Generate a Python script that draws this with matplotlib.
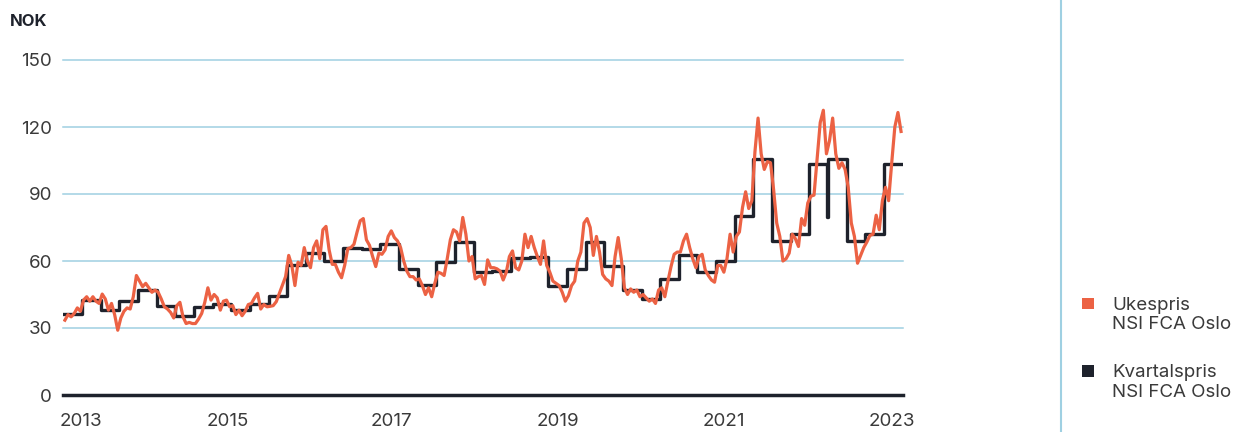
import numpy as np
import matplotlib
matplotlib.use("Agg")
import matplotlib.pyplot as plt
from matplotlib.patches import Rectangle
from matplotlib.lines import Line2D


#  Data (NOK per kg)
# Weekly price, six readings per quarter, one row per quarter
ukespris = [
    [33.5, 36, 35, 36.5, 39, 37.5],
    [42.5, 44, 42, 44, 42, 41],
    [45.2, 43, 38, 41, 36, 29],
    [34.5, 37.5, 39, 38.5, 44, 53.5],
    [51, 48.5, 50, 48, 46, 47],
    [46, 43, 39.5, 38.5, 37, 34.5],
    [40, 41.5, 35, 32, 32.5, 32],
    [32, 34, 36.5, 41.5, 48, 42.5],
    [45, 43.5, 38, 42, 42.5, 39.5],
    [40, 36, 38, 35.5, 37.5, 40.5],
    [41, 43.5, 45.5, 38.5, 40.5, 39.5],
    [39.7, 40, 41.8, 45.5, 49.3, 53],
    [62.5, 58, 49, 59.5, 58, 66],
    [60, 57, 66, 69, 61, 74],
    [75.5, 65, 58.5, 58.5, 55, 52.5],
    [58, 65.5, 66, 67.5, 73, 78],
    [79, 69.5, 67, 62, 57.5, 63.5],
    [63, 65, 71, 73.5, 70.5, 69],
    [66, 60, 55.5, 53, 53, 51.5],
    [52, 49, 45, 48, 44, 50],
    [55, 54.5, 53.5, 61, 69.5, 74],
    [73, 69, 79.5, 72, 60, 62],
    [52, 53, 53.5, 49.5, 60.5, 57],
    [57, 56.5, 55.5, 51.5, 55, 62],
    [64.5, 57, 56, 60, 72, 66],
    [71, 66, 62, 58.5, 69, 58],
    [55, 51, 50, 49, 46, 42],
    [44.5, 49, 51, 60, 64, 77],
    [79, 75, 62.5, 71, 64, 54],
    [52, 51, 49, 62, 70.5, 61],
    [48, 45, 47.5, 46, 47, 44],
    [45, 43.5, 42, 43, 41, 47],
    [48, 44, 51, 57.5, 63, 64],
    [64, 69, 72, 66, 61, 57],
    [62, 63, 56, 53.5, 51.5, 50.5],
    [58, 58, 55, 61, 72, 64],
    [71, 73, 84, 91, 83.5, 87],
    [109, 124, 108, 101, 104.5, 104],
    [92, 77, 71, 60, 61, 63.5],
    [72, 70, 66.5, 79, 76, 86],
    [89, 89.5, 106, 122, 127.5, 108],
    [114, 124, 108, 101.5, 104, 101],
    [93, 77, 71, 59, 62.5, 66],
    [68.5, 71.5, 72, 80.5, 74, 87],
    [93, 87, 104, 120, 126.5, 118],
]

# Quarterly price, one value per quarter
kvartalspris = [
    36.2, 42.5, 38.2, 42.2, 47, 39.8, 35.3, 39.6, 40.8, 38, 40.7, 44.5,
    58, 63.7, 59.8, 65.6, 65.2, 67.6, 56.3, 49.2, 59.5, 68.5, 54.9, 55.3,
    61.2, 62, 48.7, 56.2, 68.5, 57.7, 47.2, 43.2, 52.1, 62.6, 54.9, 59.8,
    80, 105.6, 68.9, 72.1, 103.5, 105.7, 68.8, 72.1, 103.5,
]
# single-week dip in the last week of quarter 40
dip_kvartal = 40
dip_pris = 79.7

aar_labels = ["2013", "2015", "2017", "2019", "2021", "2023"]
aar_pos = [0.95, 8.8, 17.6, 26.5, 35.4, 44.4]
y_ticks = [0, 30, 60, 90, 120, 150]

serie_navn = ["Ukespris\nNSI FCA Oslo", "Kvartalspris\nNSI FCA Oslo"]

#  Style
ORANGE = "#ec6244"
DARK = "#1e222c"
GRID = "#9fd0e2"
TEXT = "#3a3a3a"
W, H = 1237, 432

plt.rcParams["font.family"] = ["Inter", "DejaVu Sans"]


def fx(px):
    return px / W


def fy(py):
    return 1 - py / H


#  Figure
fig = plt.figure(figsize=(W / 100, H / 100), dpi=100)
ax = fig.add_axes([fx(63.35), fy(395), (902.6 - 63.35) / W, 335 / H])

n_q = len(kvartalspris)
per_q = len(ukespris[0])
uke = np.array(ukespris).ravel()
x_uke = (np.arange(uke.size) + 0.5) / per_q

kx = list(range(n_q + 1))
ky = list(kvartalspris) + [kvartalspris[-1]]
kx.insert(dip_kvartal + 1, dip_kvartal + 12 / 13)
ky.insert(dip_kvartal + 1, dip_pris)

for v in y_ticks[1:]:
    ax.axhline(v, color=GRID, lw=1.1, zorder=0, clip_on=False)
ax.axhline(0, color=DARK, lw=2.5, zorder=1, clip_on=False)

ax.step(kx, ky, where="post", color=DARK, lw=2.4, zorder=2)
ax.plot(x_uke, uke, color=ORANGE, lw=2.3, zorder=3, solid_joinstyle="round")

ax.set_xlim(0, n_q)
ax.set_ylim(0, 150)
for s in ax.spines.values():
    s.set_visible(False)

ax.set_yticks(y_ticks)
ax.set_xticks(aar_pos, aar_labels)
ax.tick_params(axis="y", length=0, pad=8, labelsize=13.5, labelcolor=TEXT)
ax.tick_params(axis="x", length=0, pad=13, labelsize=13.5, labelcolor=TEXT)

fig.text(fx(10), fy(21.5), "NOK", fontsize=12, fontweight="bold",
         color=DARK, va="center", ha="left")

# separator between plot and legend
fig.add_artist(Line2D([fx(1061), fx(1061)], [0, 1], transform=fig.transFigure,
                      color=GRID, lw=1.5))

# legend
for navn, farge, ysq in zip(serie_navn, [ORANGE, DARK], [303.5, 371.2]):
    fig.add_artist(Rectangle((fx(1082), fy(ysq + 5.8)), 11.6 / W, 11.6 / H,
                             transform=fig.transFigure, color=farge, lw=0))
    fig.text(fx(1112.5), fy(ysq + 11.3), navn, fontsize=13.5, color=TEXT,
             va="center", ha="left", linespacing=1.2)

fig.savefig("out.png", dpi=100)
print("saved out.png")
